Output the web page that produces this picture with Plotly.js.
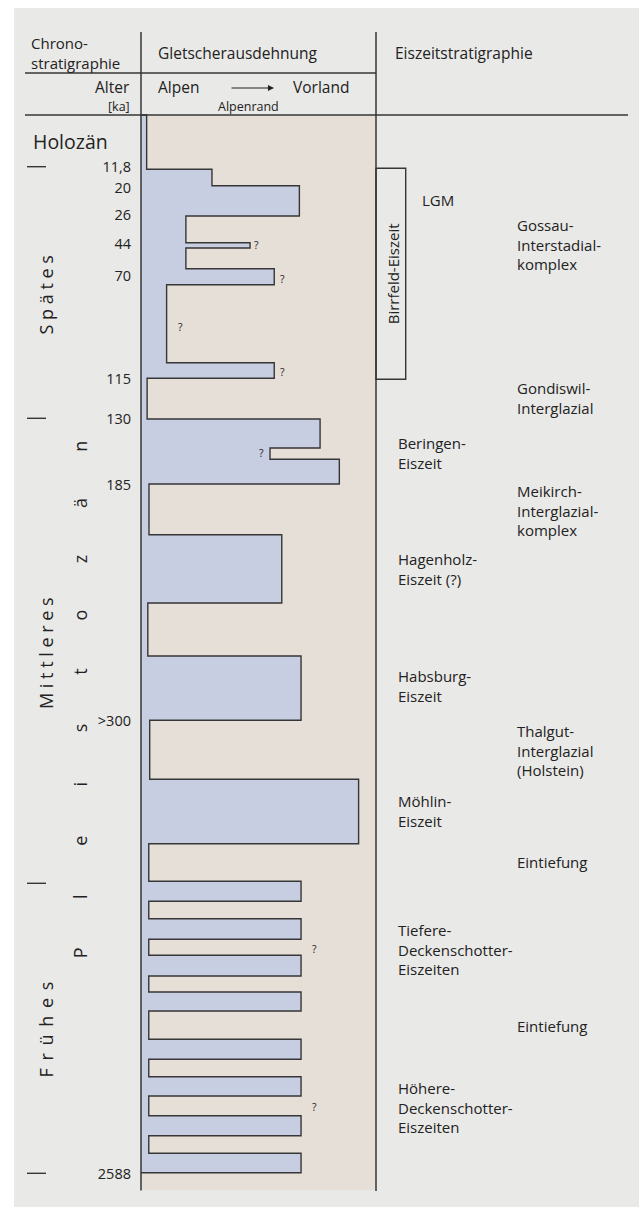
<!DOCTYPE html>
<html><head><meta charset="utf-8">
<script src="https://cdn.plot.ly/plotly-3.0.1.min.js"></script>
<style>html,body{margin:0;padding:0;background:#fff}</style>
</head><body><div id="chart" style="width:639px;height:1209px"></div>
<script>
// ---- DATA ----
// Glacier extent profile: depth of each step boundary on the diagram's (non-linear) time scale
const stepDepth = [115, 169.3, 185.7, 216, 242.7, 248, 268.7, 284.7, 362.7, 378.3,
  419, 448, 459.3, 484, 534.7, 603, 656, 720.3, 779.3, 843.7,
  881.3, 901.3, 918.7, 939.3, 955.3, 976, 992, 1011, 1039.3, 1059.3,
  1076.7, 1096, 1115.7, 1135.7, 1153.3, 1172.7];
// Glacier extent (% from Alpen towards Vorland) between consecutive boundaries
const glacierExtent = [2.4, 30.2, 67.4, 19.1, 46.4, 19.1, 56.7, 10.9, 56.7, 2.6,
  76.2, 54.9, 84.4, 3.4, 59.9, 2.9, 68.1, 3.7, 92.6, 3.3,
  68.1, 3.3, 68.1, 3.3, 68.1, 3.3, 68.1, 3.3, 68.1, 3.3,
  68.1, 3.3, 68.1, 3.3, 68.1];
// Age tick labels (ka) and their depth on the diagram scale
const ageLabels = ['11,8', '20', '26', '44', '70', '115', '130', '185', '>300', '2588'];
const ageDepth = [167.4, 187.6, 215, 244, 276, 379.3, 419, 485.3, 721, 1174.3];
// Birrfeld-Eiszeit span (11,8 – 115 ka) on the depth scale
const birrfeldSpan = [168.3, 379.3];
// Epoch boundaries (Holozän / Spätes / Mittleres / Frühes Pleistozän)
const epochBoundaryDepth = [166.7, 418.3, 883.3, 1173.3];
// Uncertain extents marked with "?"
const queryExtent = [49.2, 60.3, 16.6, 60.3, 51.1, 74.0, 74.0];
const queryDepth = [245.3, 279.3, 326.7, 372.3, 452.7, 948.7, 1106.7];
// Eiszeitstratigraphie: glaciations and their depth
const glacialNames = ['Beringen-<br>Eiszeit', 'Hagenholz-<br>Eiszeit (?)', 'Habsburg-<br>Eiszeit',
  'Möhlin-<br>Eiszeit', 'Tiefere-<br>Deckenschotter-<br>Eiszeiten', 'Höhere-<br>Deckenschotter-<br>Eiszeiten'];
const glacialDepth = [452.8, 568.8, 685.5, 811.3, 949.5, 1107.8];
// Interglacials / interstadials / incision phases and their depth
const interNames = ['Gossau-<br>Interstadial-<br>komplex', 'Gondiswil-<br>Interglazial',
  'Meikirch-<br>Interglazial-<br>komplex', 'Thalgut-<br>Interglazial<br>(Holstein)', 'Eintiefung', 'Eintiefung'];
const interDepth = [244, 398, 510.5, 750, 862.3, 1026];
const birrfeldName = 'Birrfeld-Eiszeit';
const lgmName = 'LGM';
const lgmDepth = 200;
// Epoch names
const epochWords = ['S p ä t e s', 'M i t t l e r e s', 'F \u2009r \u2009ü \u2009h \u2009e \u2009s'];
const epochWordDepth = [295, 653.5, 1030];
const pleistoceneWord = 'Pleistozän';

// ---- STYLE / LAYOUT ----
const W = 639, H = 1209;
const colL = 141, colR = 376;
const ink = '#222222', lineCol = '#363636';
const FONT = 'Open Sans, Noto Sans, sans-serif';

// profile path
const px = [0], py = [stepDepth[0]];
for (let i = 0; i < glacierExtent.length; i++) {
  px.push(glacierExtent[i], glacierExtent[i]);
  py.push(stepDepth[i], stepDepth[i + 1]);
}
px.push(0); py.push(stepDepth[stepDepth.length - 1]);

const traces = [{
  type: 'scatter', mode: 'lines', x: px, y: py, xaxis: 'x2', yaxis: 'y',
  fill: 'toself', fillcolor: '#c8cee2',
  line: { color: lineCol, width: 1.4 }, hoverinfo: 'skip', showlegend: false
}];

const ann = [];
function txt(x, y, text, o) {
  o = o || {};
  ann.push(Object.assign({
    x: x, y: y, xref: 'x', yref: 'y', text: text, showarrow: false,
    xanchor: 'left', yanchor: 'middle', align: 'left', borderpad: 0,
    font: { family: FONT, size: o.size || 15, color: ink }
  }, o.extra || {}));
}
// header
txt(30, 52.5, 'Chrono-<br>stratigraphie', { size: 15 });
txt(157, 53, 'Gletscherausdehnung', { size: 15.5 });
txt(394, 53, 'Eiszeitstratigraphie', { size: 15.5 });
txt(131, 87, 'Alter', { size: 15.5, extra: { xanchor: 'right' } });
txt(131, 106, '[ka]', { size: 12.5, extra: { xanchor: 'right' } });
txt(157, 87, 'Alpen', { size: 15.5 });
txt(292, 87, 'Vorland', { size: 15.5 });
txt(248.5, 106, 'Alpenrand', { size: 12.5, extra: { xanchor: 'center' } });
ann.push({ x: 274, y: 88, ax: 230, ay: 88, xref: 'x', yref: 'y', axref: 'x', ayref: 'y',
  showarrow: true, arrowhead: 2, arrowsize: 1.1, arrowwidth: 1.1, arrowcolor: ink, text: '' });
txt(31.5, 141, 'Holozän', { size: 19.5 });

// epoch names (rotated)
epochWords.forEach((w, i) => txt(45.5, epochWordDepth[i], w, { size: 18, extra: { xanchor: 'center', textangle: -90 } }));
const letters = pleistoceneWord.split('');
const pTop = 446.7, pBot = 953.3;
letters.forEach((c, i) => {
  const y = pBot - i * (pBot - pTop) / (letters.length - 1);
  txt(80, y, c, { size: 18, extra: { xanchor: 'center', textangle: -90 } });
});

// right column labels
glacialNames.forEach((b, i) => txt(396.5, glacialDepth[i], b, { size: 15 }));
interNames.forEach((b, i) => txt(515.5, interDepth[i], b, { size: 15 }));
const boxR = 405.7;
txt(boxR + 15, lgmDepth, lgmName, { size: 15 });
txt(392.5, (birrfeldSpan[0] + birrfeldSpan[1]) / 2, birrfeldName, { size: 15, extra: { xanchor: 'center', textangle: -90 } });

// question marks
queryExtent.forEach((e, i) => ann.push({
  x: e, y: queryDepth[i], xref: 'x2', yref: 'y', text: '?', showarrow: false,
  xanchor: 'center', yanchor: 'middle', font: { family: FONT, size: 10.5, color: ink }
}));

const shapes = [];
function rect(x0, y0, x1, y1, fill) {
  shapes.push({ type: 'rect', xref: 'x', yref: 'y', x0: x0, x1: x1, y0: y0, y1: y1,
    fillcolor: fill, line: { width: 0 }, layer: 'below' });
}
function seg(x0, y0, x1, y1, w) {
  shapes.push({ type: 'line', xref: 'x', yref: 'y', x0: x0, x1: x1, y0: y0, y1: y1,
    line: { color: lineCol, width: w || 1.5 }, layer: 'above' });
}
rect(14, 8, W, 1207, '#e9e9e7');
rect(colL, 115, colR, 1190, '#e6dfd8');
seg(colL, 32, colL, 1190.5);
seg(colR, 32, colR, 1191);
seg(25, 73, colR, 73);
seg(25, 115, 628, 115);
epochBoundaryDepth.forEach(d => seg(27, d, 46, d, 1.4));
shapes.push({ type: 'rect', xref: 'x', yref: 'y', x0: colR, x1: boxR, y0: birrfeldSpan[0], y1: birrfeldSpan[1],
  fillcolor: 'rgba(0,0,0,0)', line: { color: lineCol, width: 1.4 }, layer: 'above' });

const layout = {
  width: W, height: H, margin: { l: 0, r: 0, t: 0, b: 0, pad: 0 },
  paper_bgcolor: '#ffffff', plot_bgcolor: 'rgba(0,0,0,0)', showlegend: false,
  xaxis: { domain: [0, 1], range: [0, W], visible: false, fixedrange: true, anchor: 'y' },
  xaxis2: { domain: [colL / W, colR / W], range: [0, 100], visible: false, fixedrange: true, anchor: 'y' },
  yaxis: { domain: [0, 1], range: [H, 0], anchor: 'x2', showgrid: false, zeroline: false, showline: false,
    ticks: '', tickmode: 'array', tickvals: ageDepth, ticktext: ageLabels, ticklabelstandoff: 9,
    tickfont: { family: FONT, size: 14.5, color: ink }, fixedrange: true },
  annotations: ann, shapes: shapes
};
Plotly.newPlot('chart', traces, layout, { staticPlot: true, displayModeBar: false });
</script></body></html>
